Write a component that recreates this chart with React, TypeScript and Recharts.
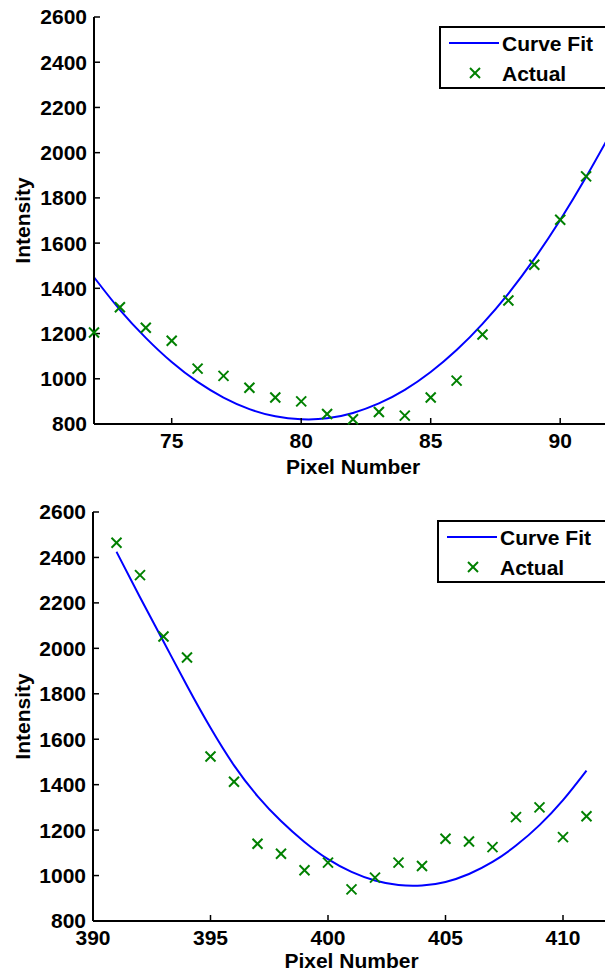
import { ComposedChart, Line, Scatter, XAxis, YAxis, Legend } from 'recharts';

// top panel: pixels 72-91
const topPixels = [72, 73, 74, 75, 76, 77, 78, 79, 80, 81, 82, 83, 84, 85, 86, 87, 88, 89, 90, 91];
const topActual = [1205, 1316, 1226, 1168, 1045, 1013, 960, 917, 900, 844, 821, 853, 837, 917, 992, 1196, 1346, 1504, 1703, 1895];
const topFitPixels = [72, 73, 74, 75, 76, 77, 78, 79, 80, 81, 82, 83, 84, 85, 86, 87, 88, 89, 90, 91, 92];
const topFit = [1449, 1305, 1181, 1074, 986, 917, 866, 834, 821, 825, 849, 891, 951, 1030, 1127, 1243, 1377, 1530, 1702, 1892, 2096];

// bottom panel: pixels 391-411
const bottomPixels = [391, 392, 393, 394, 395, 396, 397, 398, 399, 400, 401, 402, 403, 404, 405, 406, 407, 408, 409, 410, 411];
const bottomActual = [2465, 2322, 2052, 1960, 1524, 1413, 1140, 1096, 1023, 1057, 939, 991, 1057, 1042, 1162, 1150, 1125, 1257, 1300, 1169, 1261];
const bottomFit = [2425, 2225, 2030, 1835, 1650, 1485, 1350, 1240, 1148, 1072, 1016, 978, 958, 956, 972, 1007, 1060, 1132, 1222, 1332, 1462];

const intensityTicks = [800, 1000, 1200, 1400, 1600, 1800, 2000, 2200, 2400, 2600];
const topPixelTicks = [75, 80, 85, 90];
const bottomPixelTicks = [390, 395, 400, 405, 410];
const seriesNames = ['Curve Fit', 'Actual'];

const FONT = '"Liberation Sans", Arial, Helvetica, sans-serif';
const BLUE = '#0000ff';
const GREEN = '#008000';

const tickStyle = { fill: '#000', fontSize: 21, fontWeight: 700, fontFamily: FONT };
const labelStyle = { fill: '#000', fontSize: 21, fontWeight: 700, fontFamily: FONT };
const axisLine = { stroke: '#000', strokeWidth: 2 };
const tickLine = { stroke: '#000', strokeWidth: 1.5 };

function Cross(props: any) {
  const { cx, cy } = props;
  const r = 5;
  return (
    <g stroke={GREEN} strokeWidth={2}>
      <line x1={cx - r} y1={cy - r} x2={cx + r} y2={cy + r} />
      <line x1={cx - r} y1={cy + r} x2={cx + r} y2={cy - r} />
    </g>
  );
}

function FitLegend() {
  return (
    <svg width={180} height={64} style={{ display: 'block' }}>
      <rect x={1} y={1} width={190} height={61} fill="#fff" stroke="#000" strokeWidth={2} />
      <line x1={10} x2={60} y1={17} y2={17} stroke={BLUE} strokeWidth={2} />
      <Cross cx={36} cy={47} />
      <text x={63} y={25} fontSize={21} fontWeight={700} fontFamily={FONT}>{seriesNames[0]}</text>
      <text x={63} y={55} fontSize={21} fontWeight={700} fontFamily={FONT}>{seriesNames[1]}</text>
    </svg>
  );
}

function Panel({ fitX, fit, actX, act, domain, xTicks, width, height, margin, yWidth, legendPos, xLabelOffset }: any) {
  const fitData = fitX.map((x: number, i: number) => ({ x, y: fit[i] }));
  const actData = actX.map((x: number, i: number) => ({ x, y: act[i] }));
  return (
    <ComposedChart width={width} height={height} margin={margin}>
      <XAxis
        xAxisId="b"
        type="number"
        dataKey="x"
        domain={domain}
        ticks={xTicks}
        interval={0}
        height={50}
        axisLine={axisLine}
        tickLine={tickLine}
        tickSize={-6}
        tickMargin={15}
        tick={tickStyle}
        label={{ value: 'Pixel Number', position: 'insideBottom', offset: xLabelOffset, ...labelStyle }}
      />
      <XAxis
        xAxisId="t"
        orientation="top"
        type="number"
        dataKey="x"
        domain={domain}
        ticks={xTicks}
        interval={0}
        height={0}
        axisLine={axisLine}
        tickLine={tickLine}
        tickSize={-6}
        tick={false}
      />
      <YAxis
        yAxisId="l"
        type="number"
        domain={[800, 2600]}
        ticks={intensityTicks}
        interval={0}
        width={yWidth}
        axisLine={axisLine}
        tickLine={tickLine}
        tickSize={-6}
        tickMargin={13}
        tick={tickStyle}
        label={{ value: 'Intensity', angle: -90, position: 'insideLeft', offset: 23, ...labelStyle, style: { textAnchor: 'middle' } }}
      />
      <YAxis
        yAxisId="r"
        orientation="right"
        type="number"
        domain={[800, 2600]}
        ticks={intensityTicks}
        interval={0}
        width={0}
        axisLine={axisLine}
        tickLine={tickLine}
        tickSize={-6}
        tick={false}
      />
      <Line
        xAxisId="b"
        yAxisId="l"
        data={fitData}
        dataKey="y"
        name={seriesNames[0]}
        type="natural"
        stroke={BLUE}
        strokeWidth={2}
        dot={false}
        isAnimationActive={false}
      />
      <Scatter
        xAxisId="b"
        yAxisId="l"
        data={actData}
        dataKey="y"
        name={seriesNames[1]}
        shape={<Cross />}
        isAnimationActive={false}
      />
      <Legend
        layout="vertical"
        align="center"
        verticalAlign="middle"
        content={() => <FitLegend />}
        wrapperStyle={{ left: legendPos[0], top: legendPos[1], width: 'auto', height: 'auto' }}
      />
    </ComposedChart>
  );
}

export default function App() {
  return (
    <div style={{ position: 'absolute', left: 0, top: 0, width: 605, height: 973, overflow: 'hidden', background: '#fff' }}>
      <div style={{ position: 'absolute', left: 0, top: 0 }}>
        <Panel
          fitX={topFitPixels}
          fit={topFit}
          actX={topPixels}
          act={topActual}
          domain={[72, 92]}
          xTicks={topPixelTicks}
          width={620}
          height={480}
          margin={{ top: 17, right: 8, bottom: 6, left: 0 }}
          yWidth={94}
          legendPos={[439, 26]}
          xLabelOffset={0}
        />
      </div>
      <div style={{ position: 'absolute', left: 0, top: 480 }}>
        <Panel
          fitX={bottomPixels}
          fit={bottomFit}
          actX={bottomPixels}
          act={bottomActual}
          domain={[390, 412]}
          xTicks={bottomPixelTicks}
          width={617}
          height={493}
          margin={{ top: 32, right: 7, bottom: 2, left: 0 }}
          yWidth={93}
          legendPos={[437, 40]}
          xLabelOffset={3}
        />
      </div>
    </div>
  );
}
